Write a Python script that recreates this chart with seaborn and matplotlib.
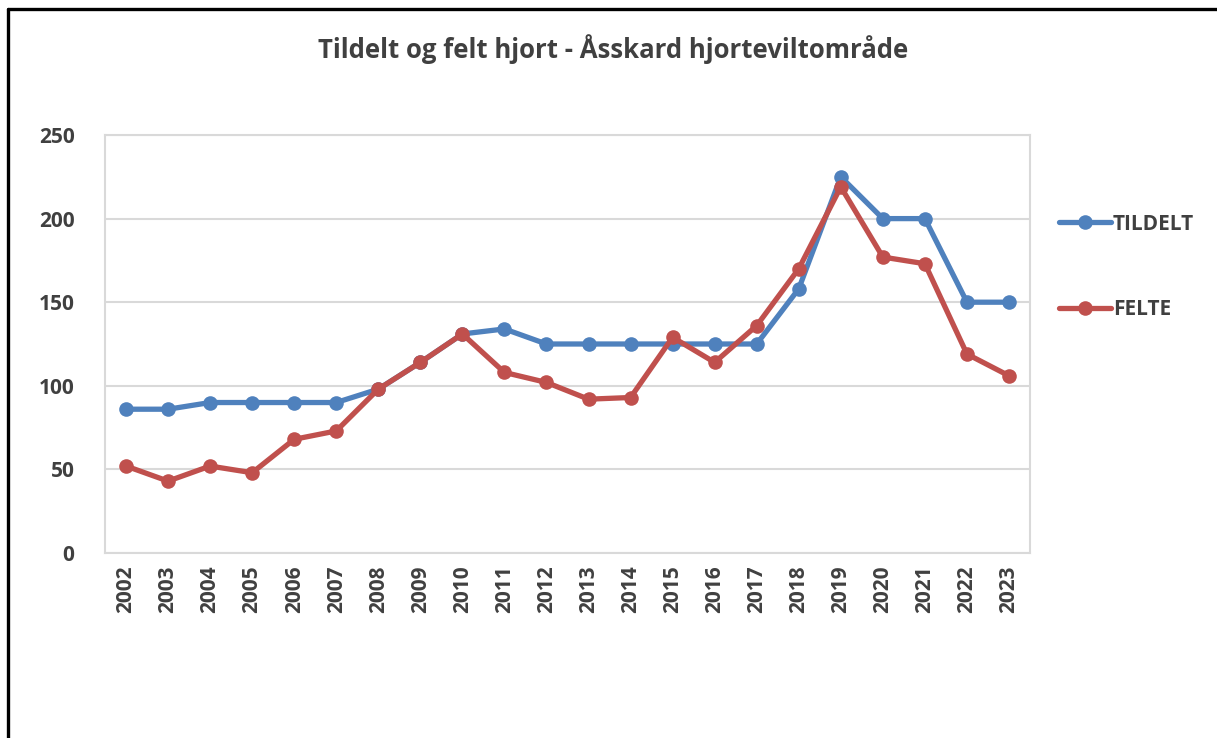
import matplotlib
matplotlib.use("Agg")
import matplotlib.pyplot as plt
from matplotlib.lines import Line2D
import pandas as pd
import seaborn as sns

# Data
years = list(range(2002, 2024))
tildelt = [86, 86, 90, 90, 90, 90, 98, 114, 131, 134, 125, 125, 125, 125,
           125, 125, 158, 225, 200, 200, 150, 150]
felte = [52, 43, 52, 48, 68, 73, 98, 114, 131, 108, 102, 92, 93, 129,
         114, 136, 170, 219, 177, 173, 119, 106]
series_names = ["TILDELT", "FELTE"]
colors = ["#4F81BD", "#C0504D"]
title = "Tildelt og felt hjort - Åsskard hjorteviltområde"

df = pd.concat([
    pd.DataFrame({"year": years, "value": tildelt, "series": series_names[0]}),
    pd.DataFrame({"year": years, "value": felte, "series": series_names[1]}),
])

sns.set_theme(style="white")
plt.rcParams["font.family"] = ["Open Sans", "DejaVu Sans"]
text_color = "#404040"
lw, ms = 3.8, 10.5

W, H = 1217, 738
fig = plt.figure(figsize=(W / 100, H / 100), dpi=100)
ax = fig.add_axes([105 / W, 1 - 553 / H, (1030 - 105) / W, (553 - 135) / H])

sns.lineplot(
    data=df, x="year", y="value", hue="series",
    palette=dict(zip(series_names, colors)),
    marker="o", markersize=ms, markeredgewidth=0,
    linewidth=lw, ax=ax, legend=False,
)

ax.set_xlim(years[0] - 0.5, years[-1] + 0.5)
ax.set_ylim(0, 250)
ax.set_yticks(range(0, 251, 50))
ax.set_xticks(years)
ax.set_xticklabels([str(y) for y in years], rotation=90)
ax.set_xlabel("")
ax.set_ylabel("")
ax.grid(axis="y", color="#D9D9D9", linewidth=1.5)
ax.set_axisbelow(True)
for s in ax.spines.values():
    s.set_color("#D9D9D9")
    s.set_linewidth(1.5)
ax.tick_params(axis="both", length=0, labelsize=15, colors=text_color, pad=9)
ax.tick_params(axis="y", pad=22)
for lbl in ax.get_xticklabels() + ax.get_yticklabels():
    lbl.set_fontweight("bold")

fig.text(613 / W, 1 - 49 / H, title, ha="center", va="center",
         fontsize=18.5, fontweight="bold", color=text_color)

handles = [Line2D([], [], color=c, linewidth=lw, marker="o", markersize=ms,
                  markeredgewidth=0) for c in colors]
leg = fig.legend(handles, series_names, loc="center left",
                 bbox_to_anchor=(1040 / W, 1 - 267 / H), frameon=False,
                 labelspacing=3.1, handlelength=2.5, handletextpad=0.1,
                 prop={"weight": "bold", "size": 15})
for t in leg.get_texts():
    t.set_color(text_color)

# black frame on the left and top edges of the screenshot
fig.add_artist(Line2D([8 / W, 8 / W], [0, 1 - 9 / H], color="black",
                      linewidth=2.4, transform=fig.transFigure))
fig.add_artist(Line2D([8 / W, 1], [1 - 9 / H, 1 - 9 / H], color="black",
                      linewidth=2.4, transform=fig.transFigure))

fig.savefig("out.png", dpi=100, facecolor="white")
plt.close(fig)
